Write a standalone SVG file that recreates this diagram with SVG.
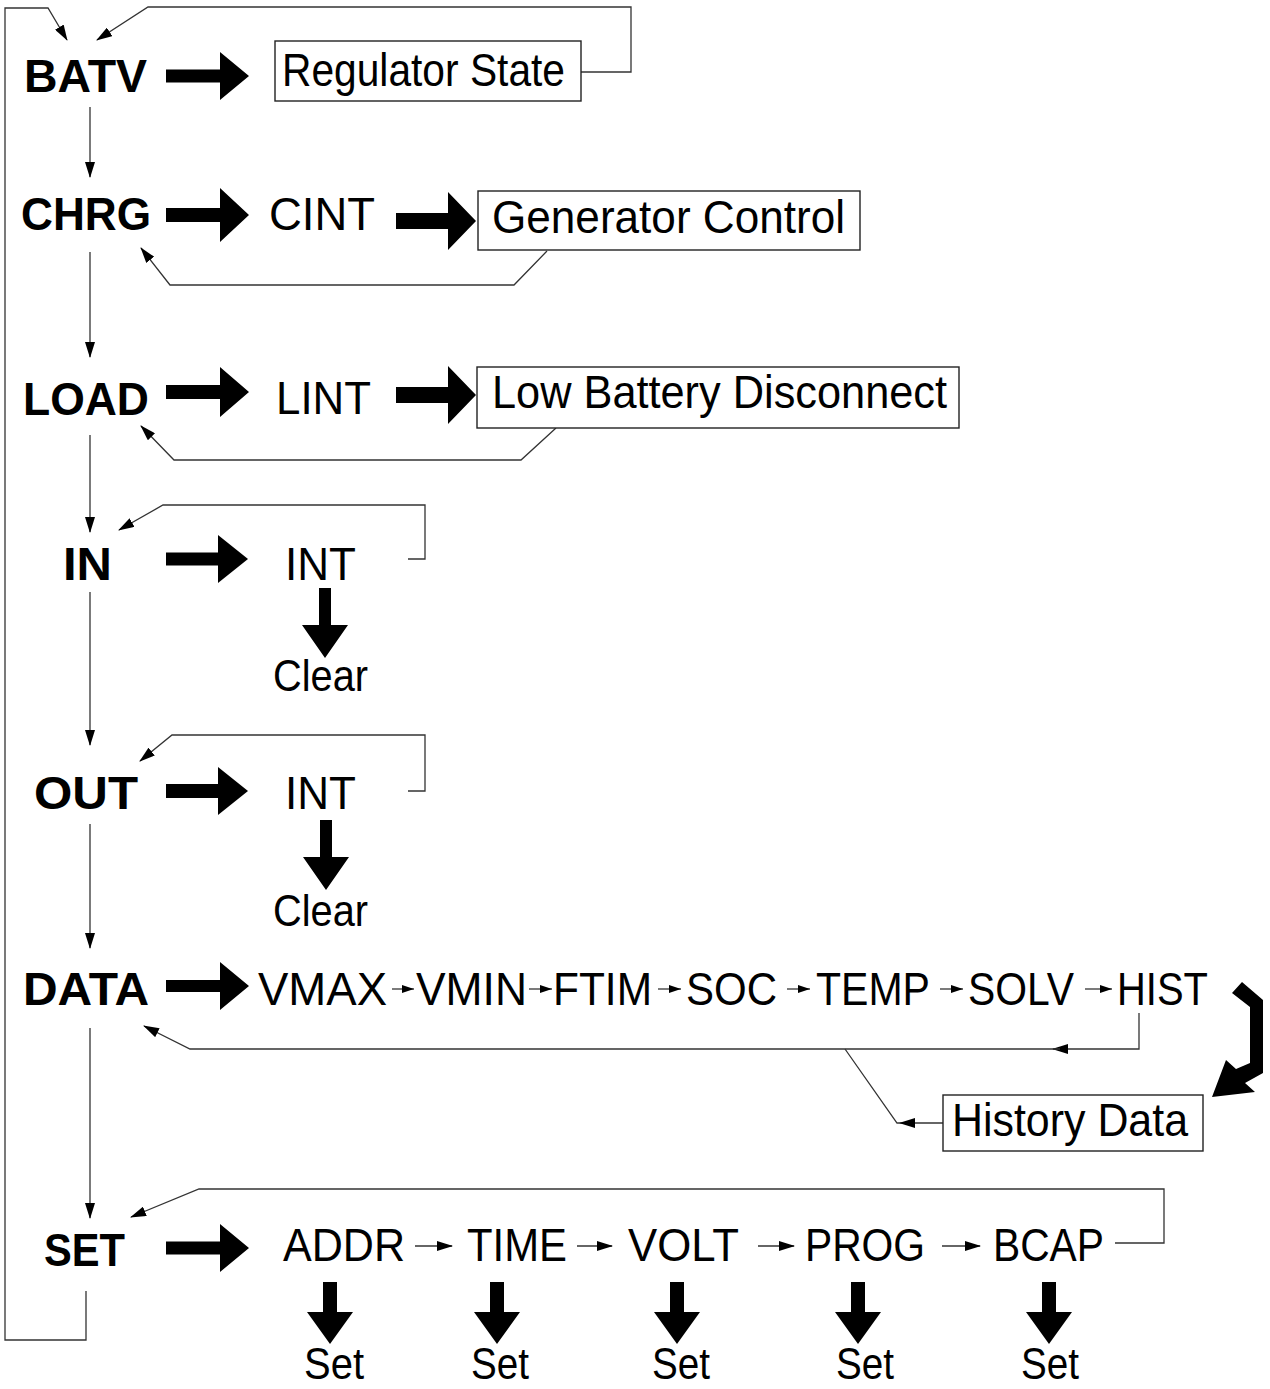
<svg xmlns="http://www.w3.org/2000/svg" width="1270" height="1389" viewBox="0 0 1270 1389">
<style>
.b{font-family:"Liberation Sans",Arial,sans-serif;font-weight:bold;font-size:46px;fill:#000}
.r{font-family:"Liberation Sans",Arial,sans-serif;font-size:47px;fill:#000}
.s{font-family:"Liberation Sans",Arial,sans-serif;font-size:44px;fill:#000}
.bx{fill:#fff;stroke:#222;stroke-width:1.4}
.c{fill:none;stroke:#333;stroke-width:1.3}
.big{fill:#000}
</style>
<defs>
<marker id="ah" markerWidth="16" markerHeight="10" refX="15" refY="5" orient="auto" markerUnits="userSpaceOnUse"><path d="M0,0 L16,5 L0,10 z" fill="#000"/></marker>
<marker id="as" markerWidth="12" markerHeight="8" refX="12" refY="4" orient="auto" markerUnits="userSpaceOnUse"><path d="M0,0 L12,4 L0,8 z" fill="#000"/></marker>
</defs>
<rect width="1270" height="1389" fill="#fff"/>

<g id="connectors">
<path class="c" d="M86,1291 V1340 H5 V8 H48 L67,40" marker-end="url(#ah)"/>
<path class="c" d="M581,72 H631 V7 H148 L97,40" marker-end="url(#ah)"/>
<path class="c" d="M90,107 V177" marker-end="url(#ah)"/>
<path class="c" d="M547,251 L514,285 H170 L141,248" marker-end="url(#ah)"/>
<path class="c" d="M90,252 V357" marker-end="url(#ah)"/>
<path class="c" d="M556,428 L521,460 H174 L141,426" marker-end="url(#ah)"/>
<path class="c" d="M90,435 V532" marker-end="url(#ah)"/>
<path class="c" d="M408,559 H425 V505 H163 L119,530" marker-end="url(#ah)"/>
<path class="c" d="M90,592 V745" marker-end="url(#ah)"/>
<path class="c" d="M408,791 H425 V735 H172 L140,761" marker-end="url(#ah)"/>
<path class="c" d="M90,824 V948" marker-end="url(#ah)"/>
<path class="c" d="M1139,1013 V1049 H1053" marker-end="url(#ah)"/>
<path class="c" d="M1060,1049 H190 L144,1026" marker-end="url(#ah)"/>
<path class="c" d="M943,1123 H900" marker-end="url(#ah)"/>
<path class="c" d="M900,1123 H897 L845,1049"/>
<path class="c" d="M90,1028 V1218" marker-end="url(#ah)"/>
<path class="c" d="M1115,1243 H1164 V1189 H199 L131,1217" marker-end="url(#ah)"/>
<g id="data-steps">
<path class="c" d="M392,989 H414" marker-end="url(#as)"/>
<path class="c" d="M529,989 H552" marker-end="url(#as)"/>
<path class="c" d="M658,989 H681" marker-end="url(#as)"/>
<path class="c" d="M787,989 H810" marker-end="url(#as)"/>
<path class="c" d="M940,989 H963" marker-end="url(#as)"/>
<path class="c" d="M1085,989 H1112" marker-end="url(#as)"/>
</g>
<g id="set-steps">
<path class="c" d="M415,1246 H452" marker-end="url(#ah)"/>
<path class="c" d="M577,1246 H612" marker-end="url(#ah)"/>
<path class="c" d="M758,1246 H794" marker-end="url(#ah)"/>
<path class="c" d="M942,1246 H980" marker-end="url(#ah)"/>
</g>
<g id="big-arrows">
<path class="big" d="M166,69.5 H220 V52 L249,76 L220,100 V82.5 H166 Z"/>
<path class="big" d="M166,208 H220 V188 L249,215 L220,242 V222 H166 Z"/>
<path class="big" d="M396,213 H448 V192 L476,221 L448,250 V229 H396 Z"/>
<path class="big" d="M166,385 H220 V367 L249,392 L220,417 V399 H166 Z"/>
<path class="big" d="M396,387 H448 V366 L476,395 L448,424 V403 H396 Z"/>
<path class="big" d="M166,552.5 H218 V535 L248,559 L218,583 V565.5 H166 Z"/>
<path class="big" d="M166,784 H218 V767 L248,791 L218,815 V798 H166 Z"/>
<path class="big" d="M166,980 H220 V962 L249,986 L220,1010 V992 H166 Z"/>
<path class="big" d="M166,1241.5 H220 V1224 L249,1248 L220,1272 V1254.5 H166 Z"/>
<path class="big" d="M319,588 H331 V625 H348 L325,658 L302,625 H319 Z"/>
<path class="big" d="M320,820 H332 V857 H349 L326,890 L303,857 H320 Z"/>
<path class="big" d="M323,1282 H337 V1312 H353 L330,1344 L307,1312 H323 Z"/>
<path class="big" d="M490,1282 H504 V1312 H520 L497,1344 L474,1312 H490 Z"/>
<path class="big" d="M670,1282 H684 V1312 H700 L677,1344 L654,1312 H670 Z"/>
<path class="big" d="M851,1282 H865 V1312 H881 L858,1344 L835,1312 H851 Z"/>
<path class="big" d="M1042,1282 H1056 V1312 H1072 L1049,1344 L1026,1312 H1042 Z"/>
<path class="big" d="M1232,993 L1242,982 L1263,1000 L1263,1073 L1245,1083 L1255,1092 L1212,1097 L1226,1060 L1236,1069 L1250,1063 L1250,1007 Z"/>
</g>
</g>

<g id="batv"><text class="b" x="24" y="92" textLength="123" lengthAdjust="spacingAndGlyphs">BATV</text></g>
<g id="regulator-state"><rect class="bx" x="275" y="41" width="306" height="60"/><text class="r" x="282" y="86" textLength="283" lengthAdjust="spacingAndGlyphs">Regulator State</text></g>
<g id="chrg"><text class="b" x="21" y="230" textLength="130" lengthAdjust="spacingAndGlyphs">CHRG</text></g>
<g id="cint"><text class="r" x="269" y="230" textLength="106" lengthAdjust="spacingAndGlyphs">CINT</text></g>
<g id="generator-control"><rect class="bx" x="478" y="191" width="382" height="59"/><text class="r" x="492" y="233" textLength="353" lengthAdjust="spacingAndGlyphs">Generator Control</text></g>
<g id="load"><text class="b" x="23" y="415" textLength="126" lengthAdjust="spacingAndGlyphs">LOAD</text></g>
<g id="lint"><text class="r" x="276" y="414" textLength="95" lengthAdjust="spacingAndGlyphs">LINT</text></g>
<g id="low-battery-disconnect"><rect class="bx" x="477" y="367" width="482" height="61"/><text class="r" x="492" y="408" textLength="455" lengthAdjust="spacingAndGlyphs">Low Battery Disconnect</text></g>
<g id="in"><text class="b" x="63" y="580" textLength="49" lengthAdjust="spacingAndGlyphs">IN</text></g>
<g id="in-int"><text class="r" x="285" y="580" textLength="71" lengthAdjust="spacingAndGlyphs">INT</text></g>
<g id="in-clear"><text class="s" x="273" y="691" textLength="95" lengthAdjust="spacingAndGlyphs">Clear</text></g>
<g id="out"><text class="b" x="34" y="809" textLength="104" lengthAdjust="spacingAndGlyphs">OUT</text></g>
<g id="out-int"><text class="r" x="285" y="809" textLength="71" lengthAdjust="spacingAndGlyphs">INT</text></g>
<g id="out-clear"><text class="s" x="273" y="926" textLength="95" lengthAdjust="spacingAndGlyphs">Clear</text></g>
<g id="data"><text class="b" x="23" y="1005" textLength="126" lengthAdjust="spacingAndGlyphs">DATA</text></g>
<g id="vmax"><text class="r" x="258" y="1005" textLength="129" lengthAdjust="spacingAndGlyphs">VMAX</text></g>
<g id="vmin"><text class="r" x="416" y="1005" textLength="111" lengthAdjust="spacingAndGlyphs">VMIN</text></g>
<g id="ftim"><text class="r" x="553" y="1005" textLength="99" lengthAdjust="spacingAndGlyphs">FTIM</text></g>
<g id="soc"><text class="r" x="686" y="1005" textLength="91" lengthAdjust="spacingAndGlyphs">SOC</text></g>
<g id="temp"><text class="r" x="816" y="1005" textLength="114" lengthAdjust="spacingAndGlyphs">TEMP</text></g>
<g id="solv"><text class="r" x="968" y="1005" textLength="106" lengthAdjust="spacingAndGlyphs">SOLV</text></g>
<g id="hist"><text class="r" x="1117" y="1005" textLength="91" lengthAdjust="spacingAndGlyphs">HIST</text></g>
<g id="history-data"><rect class="bx" x="943" y="1095" width="260" height="56"/><text class="r" x="952" y="1136" textLength="236" lengthAdjust="spacingAndGlyphs">History Data</text></g>
<g id="set"><text class="b" x="44" y="1266" textLength="81" lengthAdjust="spacingAndGlyphs">SET</text></g>
<g id="addr"><text class="r" x="283" y="1261" textLength="122" lengthAdjust="spacingAndGlyphs">ADDR</text></g>
<g id="time"><text class="r" x="467" y="1261" textLength="100" lengthAdjust="spacingAndGlyphs">TIME</text></g>
<g id="volt"><text class="r" x="628" y="1261" textLength="111" lengthAdjust="spacingAndGlyphs">VOLT</text></g>
<g id="prog"><text class="r" x="805" y="1261" textLength="120" lengthAdjust="spacingAndGlyphs">PROG</text></g>
<g id="bcap"><text class="r" x="993" y="1261" textLength="111" lengthAdjust="spacingAndGlyphs">BCAP</text></g>
<g id="set-addr"><text class="s" x="304" y="1379" textLength="60" lengthAdjust="spacingAndGlyphs">Set</text></g>
<g id="set-time"><text class="s" x="471" y="1379" textLength="58" lengthAdjust="spacingAndGlyphs">Set</text></g>
<g id="set-volt"><text class="s" x="652" y="1379" textLength="58" lengthAdjust="spacingAndGlyphs">Set</text></g>
<g id="set-prog"><text class="s" x="836" y="1379" textLength="58" lengthAdjust="spacingAndGlyphs">Set</text></g>
<g id="set-bcap"><text class="s" x="1021" y="1379" textLength="58" lengthAdjust="spacingAndGlyphs">Set</text></g>
</svg>
